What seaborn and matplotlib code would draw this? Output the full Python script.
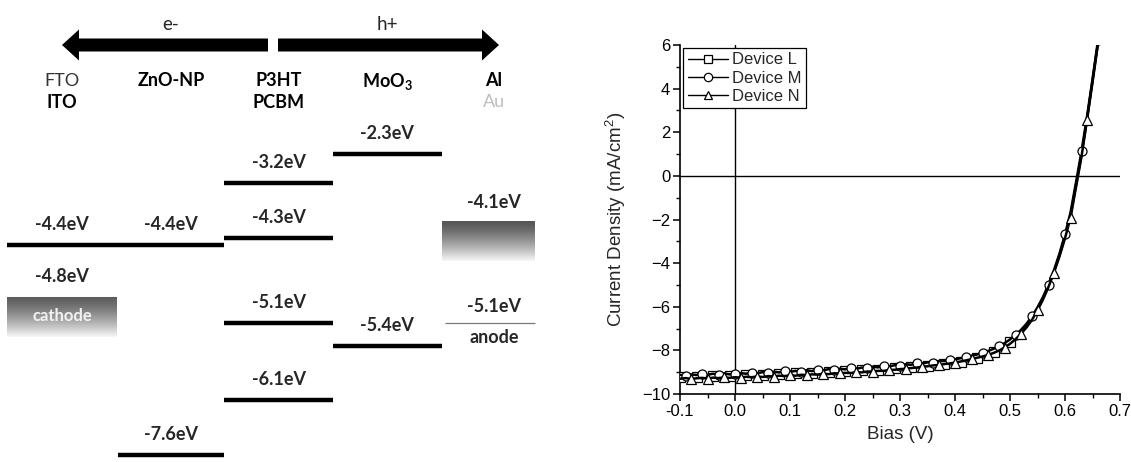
import numpy as np
import pandas as pd
import matplotlib
matplotlib.use("Agg")
import matplotlib.pyplot as plt
from matplotlib.patches import Rectangle, FancyArrow
from matplotlib.transforms import blended_transform_factory
from matplotlib.lines import Line2D
import seaborn as sns

# ---------------- J-V sweep data ----------------
bias_V = [-0.10, -0.09, -0.08, -0.07, -0.06, -0.05, -0.04, -0.03, -0.02, -0.01,
          0.00, 0.01, 0.02, 0.03, 0.04, 0.05, 0.06, 0.07, 0.08, 0.09,
          0.10, 0.11, 0.12, 0.13, 0.14, 0.15, 0.16, 0.17, 0.18, 0.19,
          0.20, 0.21, 0.22, 0.23, 0.24, 0.25, 0.26, 0.27, 0.28, 0.29,
          0.30, 0.31, 0.32, 0.33, 0.34, 0.35, 0.36, 0.37, 0.38, 0.39,
          0.40, 0.41, 0.42, 0.43, 0.44, 0.45, 0.46, 0.47, 0.48, 0.49,
          0.50, 0.51, 0.52, 0.53, 0.54, 0.55, 0.56, 0.57, 0.58, 0.59,
          0.60, 0.61, 0.62, 0.63, 0.64, 0.65, 0.66, 0.67]

j_device_L = [-9.22, -9.24, -9.21, -9.20, -9.22, -9.19, -9.18, -9.20, -9.17, -9.16,
              -9.18, -9.15, -9.14, -9.16, -9.12, -9.11, -9.13, -9.10, -9.08, -9.10,
              -9.06, -9.05, -9.07, -9.03, -9.02, -9.04, -9.00, -8.99, -9.01, -8.97,
              -8.96, -8.97, -8.93, -8.92, -8.93, -8.89, -8.88, -8.88, -8.84, -8.83,
              -8.82, -8.79, -8.77, -8.76, -8.73, -8.71, -8.69, -8.66, -8.63, -8.60,
              -8.57, -8.52, -8.47, -8.41, -8.35, -8.27, -8.18, -8.07, -7.94, -7.79,
              -7.61, -7.40, -7.15, -6.86, -6.51, -6.09, -5.60, -5.03, -4.38, -3.63,
              -2.78, -1.82, -0.42, 0.98, 2.58, 4.28, 6.08, 7.88]

j_device_M = [-9.12, -9.16, -9.10, -9.13, -9.08, -9.12, -9.07, -9.11, -9.06, -9.10,
              -9.08, -9.04, -9.07, -9.02, -9.05, -9.00, -9.03, -8.98, -9.01, -8.96,
              -8.99, -8.94, -8.97, -8.91, -8.95, -8.89, -8.92, -8.86, -8.90, -8.84,
              -8.87, -8.81, -8.85, -8.79, -8.81, -8.75, -8.78, -8.72, -8.74, -8.68,
              -8.70, -8.64, -8.66, -8.60, -8.61, -8.55, -8.56, -8.49, -8.49, -8.43,
              -8.41, -8.36, -8.31, -8.25, -8.19, -8.11, -8.03, -7.93, -7.81, -7.67,
              -7.50, -7.30, -7.06, -6.78, -6.44, -6.03, -5.55, -4.98, -4.32, -3.56,
              -2.68, -1.68, -0.30, 1.12, 2.72, 4.42, 6.22, 8.02]

j_device_N = [-9.30, -9.27, -9.31, -9.28, -9.26, -9.29, -9.25, -9.27, -9.24, -9.26,
              -9.23, -9.25, -9.21, -9.23, -9.20, -9.22, -9.18, -9.20, -9.16, -9.18,
              -9.14, -9.16, -9.12, -9.13, -9.10, -9.11, -9.07, -9.09, -9.05, -9.06,
              -9.03, -9.04, -9.00, -9.01, -8.97, -8.97, -8.94, -8.94, -8.90, -8.89,
              -8.86, -8.84, -8.81, -8.79, -8.75, -8.73, -8.69, -8.67, -8.63, -8.60,
              -8.56, -8.51, -8.46, -8.40, -8.34, -8.28, -8.21, -8.12, -8.01, -7.87,
              -7.70, -7.49, -7.24, -6.95, -6.60, -6.17, -5.67, -5.09, -4.43, -3.69,
              -2.86, -1.92, -0.52, 0.88, 2.58, 4.38, 6.08, 7.78]

device_names = ["Device L", "Device M", "Device N"]

# ---------------- energy level diagram data ----------------
layer_top_names = ["FTO", "ZnO-NP", "P3HT", "MoO$_3$", "Al"]
layer_bottom_names = ["ITO", "", "PCBM", "", "Au"]
level_layer = [0, 1, 1, 2, 2, 2, 2, 3, 3]
level_eV = [-4.4, -4.4, -7.6, -3.2, -4.3, -5.1, -6.1, -2.3, -5.4]
cathode_eV = -4.8
al_eV = -4.1
anode_eV = -5.1

# ---------------- style ----------------
sns.set_style("ticks")
plt.rcParams["font.family"] = ["Liberation Sans", "DejaVu Sans"]
plt.rcParams["mathtext.default"] = "regular"

FIG_W, FIG_H = 1131, 462
fig = plt.figure(figsize=(FIG_W / 100, FIG_H / 100), dpi=100)

# ======================= left: energy diagram =======================
axE = fig.add_axes([0, 0, 560 / FIG_W, 1])
axE.set_xlim(0, 560)
axE.axis("off")

# schematic (non-linear) vertical spacing of the levels
row_eV = np.array([-8.0, -7.6, -6.1, -5.4, -5.1, -4.8, -4.4, -4.3, -4.1, -3.2, -2.3, 0.0])
row_px = np.array([470, 455, 400, 346, 323, 297, 245, 238, 221, 183, 154, 0.0])


def e_to_y(e):
    return -np.interp(e, row_eV, row_px)


def y_to_e(v):
    return np.interp(v, -row_px, row_eV)


axE.set_yscale("function", functions=(e_to_y, y_to_e))
axE.set_ylim(float(y_to_e(-FIG_H)), float(y_to_e(0)))

col_edges = [7, 118, 224, 333, 442, 535]
col_text_x = [62, 171, 279, 387, 494]
diagram_font = ["Lato", "DejaVu Sans"]
hdr = blended_transform_factory(axE.transData, axE.transAxes)


def fy(px):
    return 1 - px / FIG_H


# charge transport arrows
axE.add_patch(FancyArrow(268, fy(45), 62 - 268, 0, width=13 / FIG_H,
                         head_width=31 / FIG_H, head_length=17,
                         length_includes_head=True, transform=hdr,
                         color="black", lw=0))
axE.add_patch(FancyArrow(278, fy(45), 499 - 278, 0, width=13 / FIG_H,
                         head_width=31 / FIG_H, head_length=17,
                         length_includes_head=True, transform=hdr,
                         color="black", lw=0))
axE.text(col_text_x[1], fy(24), "e-", transform=hdr, ha="center", va="center",
         fontsize=13.5, family=diagram_font)
axE.text(col_text_x[3], fy(24), "h+", transform=hdr, ha="center", va="center",
         fontsize=13.5, family=diagram_font)

# layer names
top_style = [("normal", "#333333"), ("bold", "black"), ("bold", "black"),
             ("bold", "black"), ("bold", "black")]
bottom_style = [("bold", "black"), ("bold", "black"), ("bold", "black"),
                ("bold", "black"), ("normal", "#bdbdbd")]
for i, name in enumerate(layer_top_names):
    w, c = top_style[i]
    axE.text(col_text_x[i], fy(81), name, transform=hdr, ha="center", va="center",
             fontsize=13, fontweight=w, color=c, family=diagram_font)
for i, name in enumerate(layer_bottom_names):
    if name:
        w, c = bottom_style[i]
        axE.text(col_text_x[i], fy(102), name, transform=hdr, ha="center",
                 va="center", fontsize=13, fontweight=w, color=c,
                 family=diagram_font)

# band levels
for col, e in zip(level_layer, level_eV):
    axE.hlines(e, col_edges[col], col_edges[col + 1], colors="black", lw=3.2,
               capstyle="butt")
    axE.annotate(f"{e:.1f}eV", xy=(col_text_x[col], e), xytext=(0, 14.5),
                 textcoords="offset points", ha="center", va="center",
                 fontsize=13, fontweight="bold", family=diagram_font)


def gradient_box(x0, x1, e_top, depth_px, g_top, g_bottom, n=60):
    y_top = e_to_y(e_top)
    for k in range(n):
        ya = y_top - depth_px * k / n
        yb = y_top - depth_px * (k + 1) / n
        t = (k + 0.5) / n
        g = g_top + (g_bottom - g_top) * t ** 1.3
        ea, eb = float(y_to_e(ya)), float(y_to_e(yb))
        axE.add_patch(Rectangle((x0, eb), x1 - x0, ea - eb, facecolor=str(g),
                                edgecolor="none", lw=0))


# cathode electrode
gradient_box(col_edges[0], 117, cathode_eV, 40, 0.36, 0.97)
axE.annotate(f"{cathode_eV:.1f}eV", xy=(col_text_x[0], cathode_eV), xytext=(0, 14.5),
             textcoords="offset points", ha="center", va="center",
             fontsize=13, fontweight="bold", family=diagram_font)
axE.annotate("cathode", xy=(col_text_x[0], cathode_eV), xytext=(0, -14),
             textcoords="offset points", ha="center", va="center",
             fontsize=12, fontweight="bold", color="#f2f2f2", family=diagram_font)

# Al electrode
gradient_box(col_edges[4], col_edges[5], al_eV, 40, 0.33, 0.97)
axE.annotate(f"{al_eV:.1f}eV", xy=(col_text_x[4], al_eV), xytext=(0, 13),
             textcoords="offset points", ha="center", va="center",
             fontsize=13, fontweight="bold", family=diagram_font)

# anode level
axE.hlines(anode_eV, 445, col_edges[5], colors="#7a7a7a", lw=0.9)
axE.annotate(f"{anode_eV:.1f}eV", xy=(col_text_x[4], anode_eV), xytext=(0, 12),
             textcoords="offset points", ha="center", va="center",
             fontsize=13, fontweight="bold", family=diagram_font)
axE.annotate("anode", xy=(col_text_x[4], anode_eV), xytext=(0, -10.5),
             textcoords="offset points", ha="center", va="center",
             fontsize=13, fontweight="bold", family=diagram_font)

# ======================= right: J-V curves =======================
ax = fig.add_axes([680 / FIG_W, (FIG_H - 394) / FIG_H,
                   (1120 - 680) / FIG_W, (394 - 45) / FIG_H])

jv = pd.DataFrame({
    "bias": bias_V * 3,
    "j": j_device_L + j_device_M + j_device_N,
    "device": sum([[d] * len(bias_V) for d in device_names], []),
})

ax.axhline(0, color="black", lw=1.0, zorder=1)
ax.axvline(0, color="black", lw=1.0, zorder=1)

markers = {"Device L": "s", "Device M": "o", "Device N": "^"}
# every third sweep point carries a symbol; device L's symbols stop at the knee
mark_idx = {"Device L": slice(0, 61, 3),
            "Device M": slice(1, None, 3),
            "Device N": slice(2, None, 3)}
handles = []
for d in device_names:
    sub = jv[jv["device"] == d]
    sns.lineplot(data=sub, x="bias", y="j", ax=ax, color="black", lw=1.8,
                 marker=markers[d], markersize=6.5, markerfacecolor="white",
                 markeredgecolor="black", markeredgewidth=0.9,
                 markevery=mark_idx[d], legend=False,
                 estimator=None, sort=False, zorder=3)
    handles.append(Line2D([], [], color="black", lw=1.0, marker=markers[d],
                          markersize=6, markerfacecolor="white",
                          markeredgecolor="black", markeredgewidth=0.9,
                          label=d))

ax.set_xlim(-0.1, 0.7)
ax.set_ylim(-10, 6)
ax.set_xticks(np.arange(-0.1, 0.71, 0.1))
ax.set_xticklabels(["-0.1", "0.0", "0.1", "0.2", "0.3", "0.4", "0.5", "0.6", "0.7"])
ax.set_xticks(np.arange(-0.05, 0.7, 0.1), minor=True)
ax.set_yticks(np.arange(-10, 7, 2))
ax.set_yticks(np.arange(-9, 6, 2), minor=True)
ax.tick_params(axis="both", which="major", direction="out", length=5, width=1.1,
               labelsize=12, color="black", labelcolor="black", pad=2)
ax.tick_params(axis="both", which="minor", direction="out", length=3, width=1.0,
               color="black")
sns.despine(ax=ax)
for s in ("left", "bottom"):
    ax.spines[s].set_linewidth(1.2)
    ax.spines[s].set_color("black")

ax.set_xlabel("Bias (V)", fontsize=13.5, labelpad=5)
ax.set_ylabel("Current Density (mA/cm$^2$)", fontsize=13.5, labelpad=10)

leg = ax.legend(handles=handles, loc="upper left", fontsize=12, frameon=True,
                fancybox=False, edgecolor="black", framealpha=1,
                borderaxespad=0.2, handlelength=2.4, handletextpad=0.3,
                labelspacing=0.2, borderpad=0.25)
leg.get_frame().set_linewidth(0.9)
leg.set_zorder(5)

fig.savefig("out.png", dpi=100, facecolor="white")
